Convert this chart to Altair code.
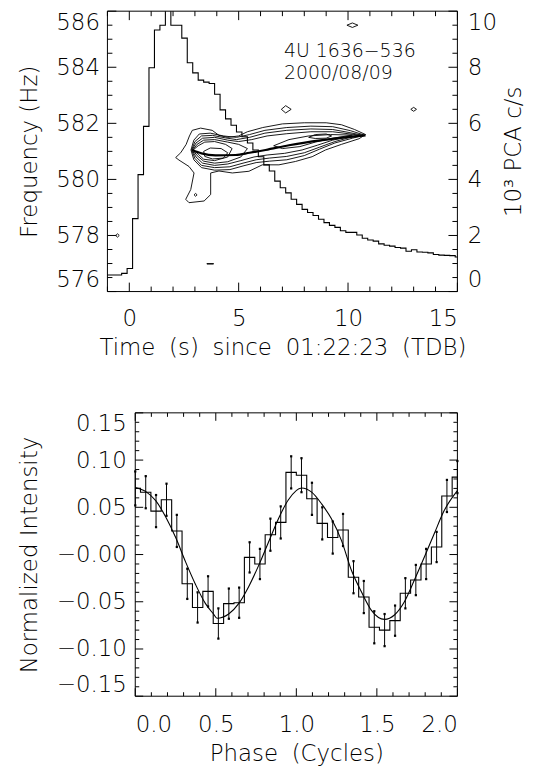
import altair as alt
import pandas as pd

FONT = "DejaVu Sans"
FS = 23
FW = 200

# ---------------- top panel: light curve (10^3 PCA c/s), bin start times ----------------
lc_time = [-1.1, -0.85, -0.6, -0.35, -0.1, 0.15, 0.4, 0.65, 0.9, 1.15, 1.4, 1.65, 1.9, 2.15,
           2.4, 2.65, 2.9, 3.15, 3.4, 3.65, 3.9, 4.15, 4.4, 4.65, 4.9, 5.15, 5.4, 5.65, 5.9,
           6.15, 6.4, 6.65, 6.9, 7.15, 7.4, 7.65, 7.9, 8.15, 8.4, 8.65, 8.9, 9.15, 9.4, 9.65,
           9.9, 10.15, 10.4, 10.65, 10.9, 11.15, 11.4, 11.65, 11.9, 12.15, 12.4, 12.65, 12.9,
           13.15, 13.4, 13.65, 13.9, 14.15, 14.4, 14.65, 14.9, 15.15]
lc_rate = [0.59, 0.59, 0.59, 0.65, 0.82, 2.60, 4.17, 5.89, 7.98, 9.33, 9.50, 10.40, 9.50, 9.50,
           9.04, 8.16, 7.80, 7.54, 7.47, 7.42, 7.04, 6.48, 6.16, 5.93, 5.69, 5.52, 5.30, 5.05,
           4.81, 4.52, 4.30, 3.94, 3.70, 3.52, 3.29, 3.11, 2.93, 2.82, 2.71, 2.58, 2.46, 2.36,
           2.29, 2.17, 2.11, 2.11, 2.02, 1.90, 1.84, 1.80, 1.70, 1.65, 1.62, 1.57, 1.55, 1.44,
           1.49, 1.41, 1.40, 1.38, 1.32, 1.30, 1.29, 1.28, 1.23, 1.23]

# frequency model track (time s, Hz)
model_t = [2.88, 3.3, 3.95, 4.86, 5.5, 6.23, 7.3, 8.82, 10.8]
model_f = [581.05, 580.93, 580.86, 580.87, 580.95, 581.05, 581.22, 581.40, 581.57]

# power contours (time s, Hz)
contours = {
    "c1": [(2.12, 580.78), (2.35, 580.95), (2.6, 581.25), (2.75, 581.55), (2.88, 581.75),
           (3.26, 581.83), (3.79, 581.75), (4.1, 581.57), (4.5, 581.5), (5.0, 581.55),
           (5.4, 581.7), (6.1, 581.85), (7.0, 581.98), (8.0, 582.02), (9.0, 582.02),
           (9.7, 581.95), (10.3, 581.78), (10.8, 581.6), (10.5, 581.45), (9.7, 581.25),
           (8.97, 581.05), (8.36, 580.81), (7.6, 580.64), (6.84, 580.52), (6.08, 580.52),
           (5.47, 580.29), (4.71, 580.23), (4.1, 580.3), (3.72, 580.23), (3.72, 579.46),
           (3.42, 579.23), (2.73, 579.17), (2.58, 579.29), (2.81, 579.64), (2.96, 580.23),
           (2.73, 580.46), (2.27, 580.69), (2.12, 580.78)],
    "c2": [(2.82, 581.05), (2.95, 581.4), (3.2, 581.62), (3.7, 581.65), (4.3, 581.55),
           (4.9, 581.5), (5.5, 581.6), (6.2, 581.75), (7.2, 581.85), (8.3, 581.9),
           (9.3, 581.88), (10.1, 581.74), (10.75, 581.58), (10.2, 581.47), (9.4, 581.3),
           (8.7, 581.08), (8.0, 580.85), (7.2, 580.7), (6.4, 580.65), (5.8, 580.6),
           (5.2, 580.48), (4.6, 580.35), (3.9, 580.33), (3.3, 580.42), (2.95, 580.7),
           (2.82, 581.05)],
    "c3": [(2.85, 581.05), (3.0, 581.35), (3.3, 581.55), (3.8, 581.57), (4.4, 581.48),
           (4.9, 581.42), (5.5, 581.5), (6.2, 581.65), (7.2, 581.75), (8.3, 581.8),
           (9.3, 581.78), (10.0, 581.68), (10.7, 581.57), (10.1, 581.5), (9.4, 581.35),
           (8.7, 581.15), (8.0, 580.95), (7.2, 580.82), (6.4, 580.76), (5.8, 580.7),
           (5.2, 580.58), (4.6, 580.45), (3.9, 580.42), (3.3, 580.5), (3.0, 580.75),
           (2.85, 581.05)],
    "c4": [(2.87, 581.05), (3.05, 581.3), (3.35, 581.47), (3.9, 581.5), (4.5, 581.4),
           (5.0, 581.35), (5.6, 581.42), (6.3, 581.55), (7.2, 581.63), (8.3, 581.7),
           (9.3, 581.7), (10.0, 581.63), (10.6, 581.57), (10.0, 581.52), (9.3, 581.4),
           (8.6, 581.22), (7.9, 581.05), (7.1, 580.93), (6.3, 580.87), (5.7, 580.8),
           (5.1, 580.67), (4.5, 580.55), (3.9, 580.5), (3.35, 580.58), (3.05, 580.8),
           (2.87, 581.05)],
    "c5": [(2.9, 581.05), (3.1, 581.25), (3.4, 581.4), (3.9, 581.42), (4.5, 581.33),
           (5.0, 581.25), (5.4, 581.1), (5.1, 580.8), (4.5, 580.63), (3.9, 580.58),
           (3.4, 580.65), (3.1, 580.85), (2.9, 581.05)],
    "c6": [(2.92, 581.05), (3.15, 581.2), (3.45, 581.33), (3.9, 581.35), (4.4, 581.25),
           (4.7, 581.1), (4.5, 580.8), (3.9, 580.67), (3.4, 580.72), (3.15, 580.9),
           (2.92, 581.05)],
    "c7": [(3.4, 581.0), (3.7, 581.12), (4.2, 581.1), (4.5, 580.95), (4.3, 580.76),
           (3.8, 580.73), (3.45, 580.82), (3.4, 581.0)],
    "c8": [(6.6, 581.2), (7.3, 581.42), (8.2, 581.55), (9.2, 581.6), (10.2, 581.58),
           (9.3, 581.47), (8.5, 581.33), (7.8, 581.17), (7.0, 581.1), (6.6, 581.2)],
    "c9": [(8.2, 581.5), (8.5, 581.6), (9.0, 581.62), (9.25, 581.55), (9.0, 581.47),
           (8.5, 581.46), (8.2, 581.5)],
    "s1": [(9.95, 585.5), (10.2, 585.58), (10.45, 585.5), (10.2, 585.42), (9.95, 585.5)],
    "s2": [(6.95, 582.5), (7.15, 582.63), (7.4, 582.5), (7.15, 582.37), (6.95, 582.5)],
    "s3": [(12.87, 582.5), (13.0, 582.57), (13.13, 582.5), (13.0, 582.43), (12.87, 582.5)],
    "s4": [(-0.62, 578.0), (-0.54, 578.06), (-0.46, 578.0), (-0.54, 577.94), (-0.62, 578.0)],
    "s5": [(3.55, 577.0), (3.85, 577.0), (3.85, 576.98), (3.55, 576.98), (3.55, 577.0)],
    "s6": [(2.96, 579.45), (3.03, 579.5), (3.1, 579.45), (3.03, 579.4), (2.96, 579.45)],
}

source_lines = ["4U 1636\u2212536", "2000/08/09"]
source_t = [7.07, 7.07]
source_f = [584.38, 583.57]

freq_major = [576, 578, 580, 582, 584, 586]
freq_minor = [v / 2 for v in range(1152, 1173) if v % 4 != 0]
rate_major = [0, 2, 4, 6, 8, 10]
rate_minor = [v / 2 for v in range(0, 21) if v % 4 != 0]
time_major = [0, 5, 10, 15]
time_minor = [-1, 1, 2, 3, 4, 6, 7, 8, 9, 11, 12, 13, 14]

# ---------------- bottom panel: folded pulse profile ----------------
phase = [0.000, 0.065, 0.129, 0.194, 0.258, 0.323, 0.387, 0.452, 0.516, 0.581, 0.645,
         0.710, 0.774, 0.839, 0.903, 0.968, 1.032, 1.097, 1.161, 1.226, 1.290, 1.355,
         1.419, 1.484, 1.548, 1.613, 1.677, 1.742, 1.806, 1.871, 1.935, 2.000]
intensity = [0.070, 0.066, 0.046, 0.058, 0.025, -0.031, -0.056, -0.039, -0.073, -0.052,
             -0.051, -0.003, -0.010, 0.021, 0.034, 0.087, 0.084, 0.059, 0.033, 0.018,
             0.026, -0.024, -0.045, -0.077, -0.080, -0.070, -0.041, -0.027, -0.010,
             0.008, 0.062, 0.082]
int_err = [0.018, 0.017, 0.017, 0.017, 0.017, 0.016, 0.016, 0.016, 0.016, 0.016, 0.016,
           0.016, 0.016, 0.017, 0.017, 0.017, 0.018, 0.017, 0.017, 0.017, 0.017, 0.017,
           0.017, 0.017, 0.017, 0.016, 0.016, 0.016, 0.016, 0.016, 0.017, 0.017]
fit_phase = [0.0, 0.066, 0.127, 0.19, 0.251, 0.313, 0.375, 0.436, 0.486, 0.508, 0.58,
             0.642, 0.704, 0.765, 0.827, 0.889, 0.951, 1.033, 1.095, 1.157, 1.218, 1.28,
             1.342, 1.404, 1.465, 1.548, 1.609, 1.671, 1.733, 1.795, 1.856, 1.918, 2.0]
fit_int = [0.071, 0.0666, 0.057, 0.0395, 0.018, -0.008, -0.032, -0.052, -0.063, -0.0675,
           -0.063, -0.052, -0.034, -0.012, 0.013, 0.038, 0.058, 0.0704, 0.066, 0.0536,
           0.0378, 0.015, -0.0166, -0.0395, -0.0588, -0.0686, -0.064, -0.050, -0.027,
           -0.0026, 0.022, 0.0465, 0.0676]

int_major = [-0.15, -0.10, -0.05, 0.0, 0.05, 0.10, 0.15]
int_minor = [v / 100 for v in range(-15, 16) if v % 5 != 0]
phase_major = [0.0, 0.5, 1.0, 1.5, 2.0]
phase_minor = [v / 10 for v in range(0, 21) if v % 5 != 0]

SP = "\u2002\u200a"  # wide word spacing like the original vector font

# ---------------- layout (pixels inside one shared plotting area) ----------------
W = 352            # both panels end at the same right edge
H = 689            # from top of upper panel to bottom of lower panel
T_BOT = 282        # bottom edge of upper panel
B_LEFT = 28        # left edge of lower panel
B_TOP = 404        # top edge of lower panel

ts = alt.Scale(domain=[-1, 15], range=[0, W], nice=False, zero=False)
fsc = alt.Scale(domain=[576, 586], range=[T_BOT, 0], nice=False, zero=False)
rsc = alt.Scale(domain=[0, 10], range=[T_BOT, 0], nice=False, zero=False)
ps = alt.Scale(domain=[0, 2], range=[B_LEFT, W], nice=False, zero=False)
isc = alt.Scale(domain=[-0.15, 0.15], range=[H, B_TOP], nice=False, zero=False)

ax_time = alt.Axis(orient="bottom", offset=-(H - T_BOT), values=time_major, format="d",
                   labelPadding=16, title=SP.join(["Time", "(s)", "since", "01:22:23", "(TDB)"]),
                   titlePadding=6)
ax_freq = alt.Axis(orient="left", values=freq_major, format="d", labelFlush=True,
                   labelPadding=8, title="Frequency (Hz)", titlePadding=14)
ax_rate = alt.Axis(orient="right", values=rate_major, format="d", labelFlush=True,
                   labelPadding=10, title="10\u00b3 PCA c/s", titleAngle=270,
                   titleBaseline="top", titlePadding=6)
ax_phase = alt.Axis(orient="bottom", values=phase_major, format=".1f", labelPadding=17,
                    title=SP.join(["Phase", "(Cycles)"]), titlePadding=7)
ax_int = alt.Axis(orient="left", offset=-B_LEFT, values=int_major, labelFlush=True,
                  labelPadding=9,
                  labelExpr="datum.value > 0.001 ? format(datum.value, '.2f') : "
                            "'\u2212' + format(abs(datum.value), '.2f')",
                  title="Normalized Intensity", titlePadding=15)


def yticks(vals, scale, x0, x1):
    return alt.Chart(pd.DataFrame({"v": vals})).mark_rule(color="black", strokeWidth=1).encode(
        y=alt.Y("v:Q", scale=scale, axis=None), x=alt.value(x0), x2=alt.value(x1))


def xticks(vals, scale, y0, y1):
    return alt.Chart(pd.DataFrame({"v": vals})).mark_rule(color="black", strokeWidth=1).encode(
        x=alt.X("v:Q", scale=scale, axis=None), y=alt.value(y0), y2=alt.value(y1))


def frame(x0, x1, y0, y1, xs, ys):
    return alt.Chart(pd.DataFrame({"a": [x0], "b": [x1], "c": [y0], "d": [y1]})).mark_rect(
        filled=False, stroke="black", strokeWidth=1).encode(
        x=alt.X("a:Q", scale=xs, axis=None), x2="b:Q",
        y=alt.Y("c:Q", scale=ys, axis=None), y2="d:Q")


rows = []
for cid, pts in contours.items():
    for i, (t, f) in enumerate(pts):
        rows.append({"cid": cid, "i": i, "t": t, "f": f})
cont_df = pd.DataFrame(rows)

contour_layer = alt.Chart(cont_df).mark_line(color="black", strokeWidth=0.9).encode(
    x=alt.X("t:Q", scale=ts, axis=ax_time),
    y=alt.Y("f:Q", scale=fsc, axis=ax_freq),
    detail="cid:N", order="i:Q")

model_layer = alt.Chart(pd.DataFrame({"t": model_t, "f": model_f})).mark_line(
    color="black", strokeWidth=2.2, interpolate="monotone").encode(
    x=alt.X("t:Q", scale=ts, axis=None),
    y=alt.Y("f:Q", scale=fsc, axis=None))

lc_layer = alt.Chart(pd.DataFrame({"t": lc_time, "r": lc_rate})).mark_line(
    color="black", strokeWidth=1.1, interpolate="step-after", clip=True).encode(
    x=alt.X("t:Q", scale=ts, axis=None),
    y=alt.Y("r:Q", scale=rsc, axis=ax_rate))

text_layer = alt.Chart(pd.DataFrame({"t": source_t, "f": source_f, "s": source_lines})).mark_text(
    align="left", baseline="alphabetic", font=FONT, fontSize=19, fontWeight=FW,
    color="black").encode(
    x=alt.X("t:Q", scale=ts, axis=None),
    y=alt.Y("f:Q", scale=fsc, axis=None),
    text="s:N")

prof_df = pd.DataFrame({"p": phase, "v": intensity,
                        "lo": [a - b for a, b in zip(intensity, int_err)],
                        "hi": [a + b for a, b in zip(intensity, int_err)]})

hist_layer = alt.Chart(prof_df).mark_line(color="black", strokeWidth=1.1,
                                          interpolate="step").encode(
    x=alt.X("p:Q", scale=ps, axis=ax_phase),
    y=alt.Y("v:Q", scale=isc, axis=ax_int))

err_layer = alt.Chart(prof_df).mark_rule(color="black", strokeWidth=1).encode(
    x=alt.X("p:Q", scale=ps, axis=None),
    y=alt.Y("lo:Q", scale=isc, axis=None), y2="hi:Q")

cap_lo = alt.Chart(prof_df).mark_point(shape="square", filled=True, size=5, color="black",
                                       opacity=1).encode(
    x=alt.X("p:Q", scale=ps, axis=None),
    y=alt.Y("lo:Q", scale=isc, axis=None))
cap_hi = alt.Chart(prof_df).mark_point(shape="square", filled=True, size=5, color="black",
                                       opacity=1).encode(
    x=alt.X("p:Q", scale=ps, axis=None),
    y=alt.Y("hi:Q", scale=isc, axis=None))

fit_layer = alt.Chart(pd.DataFrame({"p": fit_phase, "v": fit_int})).mark_line(
    color="black", strokeWidth=1.1, interpolate="monotone").encode(
    x=alt.X("p:Q", scale=ps, axis=None),
    y=alt.Y("v:Q", scale=isc, axis=None))

layers = [
    frame(-1, 15, 576, 586, ts, fsc),
    contour_layer, model_layer, lc_layer, text_layer,
    yticks(freq_major, fsc, 0, 9), yticks(freq_minor, fsc, 0, 5),
    yticks(rate_major, rsc, W, W - 9), yticks(rate_minor, rsc, W, W - 5),
    xticks(time_major, ts, T_BOT, T_BOT - 9), xticks(time_minor, ts, T_BOT, T_BOT - 5),
    xticks(time_major, ts, 0, 9), xticks(time_minor, ts, 0, 5),
    frame(0, 2, -0.15, 0.15, ps, isc),
    hist_layer, err_layer, cap_lo, cap_hi, fit_layer,
    yticks(int_major, isc, B_LEFT, B_LEFT + 8), yticks(int_minor, isc, B_LEFT, B_LEFT + 4),
    yticks(int_major, isc, W, W - 8), yticks(int_minor, isc, W, W - 4),
    xticks(phase_major, ps, H, H - 8), xticks(phase_minor, ps, H, H - 4),
    xticks(phase_major, ps, B_TOP, B_TOP + 8), xticks(phase_minor, ps, B_TOP, B_TOP + 4),
]

chart = alt.layer(*layers).resolve_scale(x="independent", y="independent").properties(
    width=W, height=H,
    padding={"left": 10, "top": 0, "right": 0, "bottom": 0}
).configure_view(
    stroke=None
).configure_axis(
    labelFont=FONT, titleFont=FONT, labelFontSize=FS, titleFontSize=FS,
    labelColor="black", titleColor="black", titleFontWeight=FW,
    labelFontWeight=FW, grid=False, ticks=False, domain=False, tickSize=0
)

chart.save("out.html", embed_options={"renderer": "svg", "actions": False})
